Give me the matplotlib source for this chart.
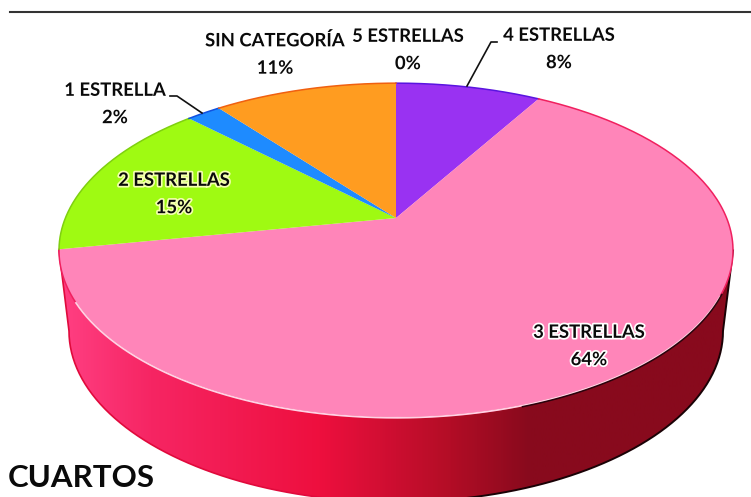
import numpy as np
import matplotlib
matplotlib.use("Agg")
import matplotlib.pyplot as plt
import matplotlib.patheffects as pe
from matplotlib.colors import LinearSegmentedColormap
from matplotlib.patches import Polygon

# clockwise from 12 o'clock, estimated from the slice edges (labels are rounded)
names = ["4 ESTRELLAS", "3 ESTRELLAS", "2 ESTRELLAS", "1 ESTRELLA", "SIN CATEGORÍA", "5 ESTRELLAS"]
values = [8.4, 63.6, 15.4, 2.0, 10.6, 0]
fills = ["#9932F2", "#FF85B9", "#9FFA12", "#1E8BFF", "#FF9C20", "#FF9C20"]
rims = ["#5A14E0", "#F0205F", "#7FD010", "#1050E0", "#F06010", "#F06010"]
label_pos = [(559, 49), (589, 346), (174, 194), (115, 104), (275, 54), (408, 50)]
glows = ["white", "white", "#F4FFB0", "white", "white", "white"]

wall_x = [62, 150, 320, 450, 530, 735]
wall_colors = ["#FF3F82", "#F62563", "#EE0F3E", "#B30D26", "#880A1D", "#880A1D"]

# pie seen in perspective: far side is squeezed
CX, CY = 396, 218
A, B, K = 330.6, 161.0, 0.194
# lower edge of the side wall
LOW_RX, LOW_RY, LOW_CY = 327, 171, 331


def project(theta):
    u, v = np.sin(theta), np.cos(theta)
    return CX + A * u / (1 + K * v), CY - B * v / (1 + K * v)


fig = plt.figure(figsize=(7.51, 4.97), dpi=100)
ax = fig.add_axes([0, 0, 1, 1])
ax.set_xlim(0, 751)
ax.set_ylim(497, 0)
ax.axis("off")

ax.plot([10, 751], [11.5, 11.5], color="#333333", lw=1.5)

# side wall, from left extreme round the front to right extreme
edge = np.arcsin(K)
front = np.linspace(1.5 * np.pi - edge, 0.5 * np.pi + edge, 300)
rim_x, rim_y = project(front)
phi = np.linspace(np.pi, 0, 300)
low_x = CX + LOW_RX * np.cos(phi)
low_y = LOW_CY + LOW_RY * np.sin(phi)
wall = Polygon(np.r_[np.c_[rim_x, rim_y], np.c_[low_x, low_y][::-1]], closed=True,
               transform=ax.transData, facecolor="none", edgecolor="none")
ax.add_patch(wall)
stops = [(x - wall_x[0]) / (wall_x[-1] - wall_x[0]) for x in wall_x]
cmap = LinearSegmentedColormap.from_list("wall", list(zip(stops, wall_colors)))
img = ax.imshow(np.linspace(0, 1, 512).reshape(1, -1), cmap=cmap, aspect="auto",
                extent=[wall_x[0], wall_x[-1], 497, 0], zorder=1)
img.set_clip_path(wall)
ax.set_xlim(0, 751)
ax.set_ylim(497, 0)

# wall outline, crimson on the left and black on the right
ax.plot(np.r_[rim_x[0], low_x[:150]], np.r_[rim_y[0], low_y[:150]], color="#E00A3C", lw=1.2, zorder=2)
ax.plot(np.r_[low_x[150:], rim_x[-1]], np.r_[low_y[150:], rim_y[-1]], color="#1A0206", lw=1.4, zorder=2)

# top face slices
start = 0.0
total = sum(values)
for val, fill, rim in zip(values, fills, rims):
    if val > 0:
        stop = start + 2 * np.pi * val / total
        arc = np.linspace(start, stop, 200)
        x, y = project(arc)
        ax.fill(np.r_[CX, x], np.r_[CY, y], color=fill, lw=0, zorder=3)
        ax.plot(x, y, color=rim, lw=1.1, zorder=4)
    start += 2 * np.pi * val / total

# pale highlight along the front rim, shadow under its right part
mid = (rim_x > 75) & (rim_x < 720)
ax.plot(rim_x[mid], rim_y[mid], color="#FFD2E4", lw=1.3, zorder=5)
part = (rim_x > 520) & (rim_x < 722)
ax.plot(rim_x[part], rim_y[part] + 1.2, color="#2A030C", lw=1.1, zorder=5)

for name, val, pos, glow in zip(names, values, label_pos, glows):
    ax.text(pos[0], pos[1], f"{name}\n{round(val)}%", ha="center", va="center", family="Lato",
            weight="bold", fontsize=13.3, color="#0A0A0A", linespacing=1.74, zorder=7,
            path_effects=[pe.withStroke(linewidth=2.5, foreground=glow)])

# leader lines
ax.plot([170, 177, 202], [96, 96, 113], color="#111111", lw=1.2, zorder=6)
ax.plot([497, 491, 467], [42, 42, 86], color="#111111", lw=1.2, zorder=6)

ax.text(8, 478, "CUARTOS", family="Lato", weight="bold", fontsize=22.5, color="#0A0A0A",
        ha="left", va="center", zorder=7)

fig.savefig("out.png", dpi=100)
